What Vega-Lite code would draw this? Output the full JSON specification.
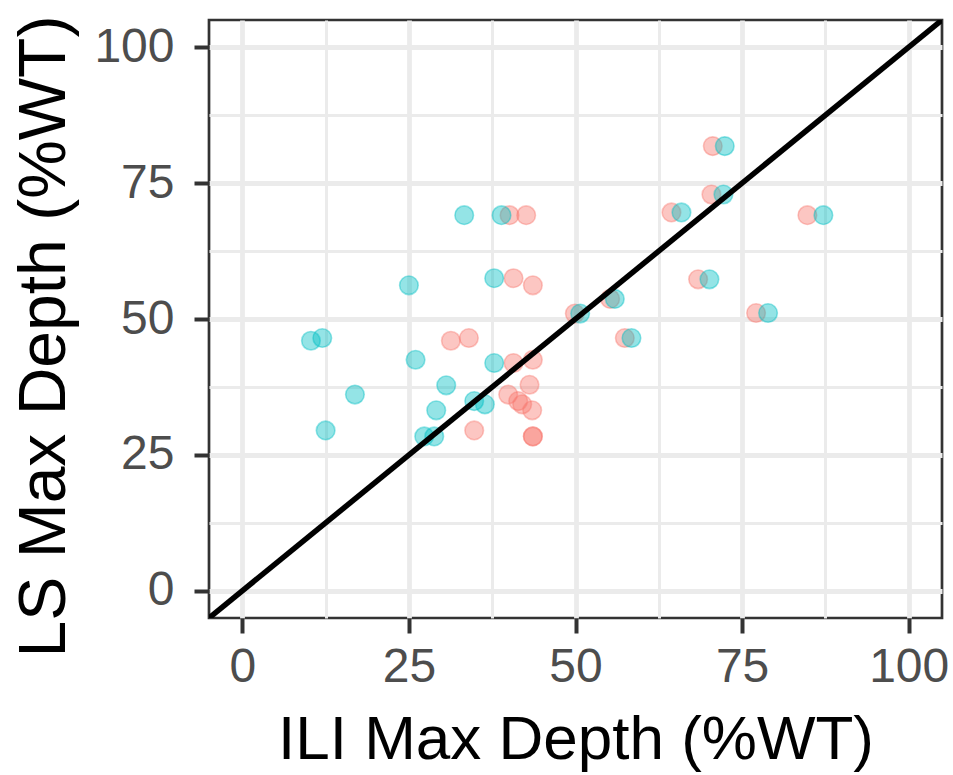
{
  "$schema": "https://vega.github.io/schema/vega-lite/v6.json",
  "width": 733,
  "height": 598,
  "autosize": {"type": "none"},
  "padding": {"left": 209, "top": 20, "right": 11, "bottom": 157},
  "background": "white",
  "config": {
    "view": {"stroke": "#333333", "strokeWidth": 2.7},
    "font": "Liberation Sans",
    "axis": {
      "domain": false,
      "grid": true,
      "gridColor": "#EBEBEB",
      "tickColor": "#333333",
      "tickSize": 15,
      "tickWidth": 4,
      "labelFont": "Liberation Sans",
      "labelFontSize": 48,
      "labelColor": "#4D4D4D",
      "titleFont": "Liberation Sans",
      "titleFontWeight": "normal",
      "titleColor": "#000000"
    }
  },
  "datasets": {
    "points": [
      {"ili": 40.1, "ls": 69.1, "run": "Group 1"},
      {"ili": 42.6, "ls": 69.1, "run": "Group 1"},
      {"ili": 40.7, "ls": 57.5, "run": "Group 1"},
      {"ili": 43.6, "ls": 56.2, "run": "Group 1"},
      {"ili": 49.9, "ls": 51.0, "run": "Group 1"},
      {"ili": 31.3, "ls": 46.0, "run": "Group 1"},
      {"ili": 34.0, "ls": 46.5, "run": "Group 1"},
      {"ili": 43.6, "ls": 42.5, "run": "Group 1"},
      {"ili": 40.7, "ls": 41.9, "run": "Group 1"},
      {"ili": 43.1, "ls": 37.9, "run": "Group 1"},
      {"ili": 39.9, "ls": 36.1, "run": "Group 1"},
      {"ili": 41.4, "ls": 34.9, "run": "Group 1"},
      {"ili": 42.0, "ls": 34.3, "run": "Group 1"},
      {"ili": 43.5, "ls": 33.2, "run": "Group 1"},
      {"ili": 34.8, "ls": 29.5, "run": "Group 1"},
      {"ili": 43.6, "ls": 28.4, "run": "Group 1"},
      {"ili": 43.6, "ls": 28.4, "run": "Group 1"},
      {"ili": 70.6, "ls": 81.8, "run": "Group 1"},
      {"ili": 70.4, "ls": 72.9, "run": "Group 1"},
      {"ili": 64.4, "ls": 69.6, "run": "Group 1"},
      {"ili": 84.8, "ls": 69.1, "run": "Group 1"},
      {"ili": 68.4, "ls": 57.3, "run": "Group 1"},
      {"ili": 55.2, "ls": 53.7, "run": "Group 1"},
      {"ili": 77.1, "ls": 51.1, "run": "Group 1"},
      {"ili": 57.4, "ls": 46.5, "run": "Group 1"},
      {"ili": 33.3, "ls": 69.1, "run": "Group 2"},
      {"ili": 38.9, "ls": 69.1, "run": "Group 2"},
      {"ili": 37.8, "ls": 57.5, "run": "Group 2"},
      {"ili": 25.0, "ls": 56.2, "run": "Group 2"},
      {"ili": 50.7, "ls": 51.0, "run": "Group 2"},
      {"ili": 10.3, "ls": 46.0, "run": "Group 2"},
      {"ili": 12.0, "ls": 46.5, "run": "Group 2"},
      {"ili": 26.0, "ls": 42.5, "run": "Group 2"},
      {"ili": 37.8, "ls": 41.9, "run": "Group 2"},
      {"ili": 30.6, "ls": 37.8, "run": "Group 2"},
      {"ili": 16.9, "ls": 36.1, "run": "Group 2"},
      {"ili": 34.8, "ls": 34.9, "run": "Group 2"},
      {"ili": 36.4, "ls": 34.3, "run": "Group 2"},
      {"ili": 29.1, "ls": 33.2, "run": "Group 2"},
      {"ili": 12.5, "ls": 29.5, "run": "Group 2"},
      {"ili": 27.3, "ls": 28.4, "run": "Group 2"},
      {"ili": 28.8, "ls": 28.4, "run": "Group 2"},
      {"ili": 72.4, "ls": 81.8, "run": "Group 2"},
      {"ili": 72.2, "ls": 72.9, "run": "Group 2"},
      {"ili": 65.9, "ls": 69.6, "run": "Group 2"},
      {"ili": 87.2, "ls": 69.1, "run": "Group 2"},
      {"ili": 70.1, "ls": 57.3, "run": "Group 2"},
      {"ili": 55.9, "ls": 53.7, "run": "Group 2"},
      {"ili": 78.9, "ls": 51.1, "run": "Group 2"},
      {"ili": 58.4, "ls": 46.5, "run": "Group 2"}
    ],
    "diag": [
      {"ili": -5, "ls": -5, "ili2": 105, "ls2": 105}
    ]
  },
  "resolve": {"axis": {"x": "independent", "y": "independent"}},
  "layer": [
    {
      "data": {"name": "points"},
      "mark": {"type": "point", "opacity": 0},
      "encoding": {
        "x": {
          "field": "ili", "type": "quantitative",
          "scale": {"domain": [-5, 105], "nice": false, "zero": false},
          "axis": {"values": [12.5, 37.5, 62.5, 87.5], "grid": true, "gridWidth": 3, "labels": false, "ticks": false, "domain": false, "title": null, "orient": "top"}
        },
        "y": {
          "field": "ls", "type": "quantitative",
          "scale": {"domain": [-5, 105], "nice": false, "zero": false},
          "axis": {"values": [12.5, 37.5, 62.5, 87.5], "grid": true, "gridWidth": 3, "labels": false, "ticks": false, "domain": false, "title": null, "orient": "right"}
        }
      }
    },
    {
      "data": {"name": "points"},
      "mark": {"type": "point", "filled": true, "size": 345, "fillOpacity": 0.42, "strokeOpacity": 0.42, "strokeWidth": 1.6, "shape": "circle"},
      "encoding": {
        "x": {
          "field": "ili", "type": "quantitative",
          "scale": {"domain": [-5, 105], "nice": false, "zero": false},
          "axis": {"values": [0, 25, 50, 75, 100], "grid": true, "gridWidth": 4.8, "title": "ILI Max Depth (%WT)", "titleFontSize": 62, "labelPadding": 10, "titlePadding": 18, "orient": "bottom"}
        },
        "y": {
          "field": "ls", "type": "quantitative",
          "scale": {"domain": [-5, 105], "nice": false, "zero": false},
          "axis": {"values": [0, 25, 50, 75, 100], "grid": true, "gridWidth": 4.8, "title": "LS Max Depth (%WT)", "titleFontSize": 66, "labelPadding": 20, "titlePadding": 15, "titleY": 316, "orient": "left"}
        },
        "color": {
          "field": "run", "type": "nominal",
          "scale": {"domain": ["Group 1", "Group 2"], "range": ["#F8766D", "#00BFC4"]},
          "legend": null
        },
        "stroke": {
          "field": "run", "type": "nominal",
          "scale": {"domain": ["Group 1", "Group 2"], "range": ["#F8766D", "#00BFC4"]},
          "legend": null
        }
      }
    },
    {
      "data": {"name": "diag"},
      "mark": {"type": "rule", "color": "#000000", "strokeWidth": 5.5, "clip": true},
      "encoding": {
        "x": {"field": "ili", "type": "quantitative", "axis": null},
        "y": {"field": "ls", "type": "quantitative", "axis": null},
        "x2": {"field": "ili2"},
        "y2": {"field": "ls2"}
      }
    }
  ]
}
